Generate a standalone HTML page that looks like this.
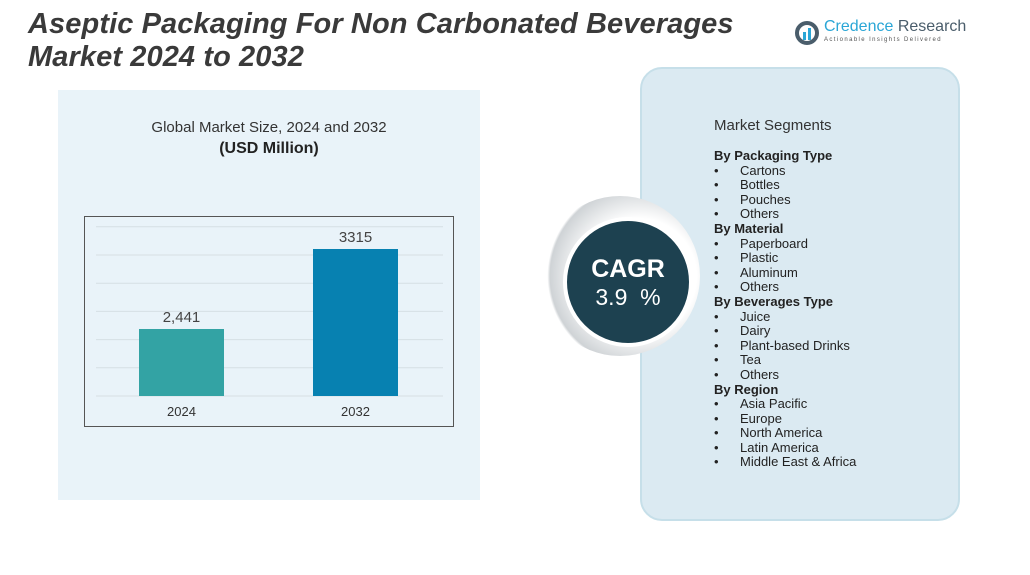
<!DOCTYPE html>
<html><head><meta charset="utf-8"><style>
body{margin:0;width:1030px;height:575px;background:#fff;position:relative;overflow:hidden;font-family:"Century Gothic","Liberation Sans",sans-serif;}
.abs{position:absolute;}
#title{left:28px;top:8px;font:italic bold 29px "Liberation Sans",sans-serif;color:#3a3a3a;line-height:33px;letter-spacing:0.1px}
#left{left:58px;top:90px;width:422px;height:410px;background:#e9f3f9}
#right{left:640px;top:67px;width:316px;height:450px;background:#dbeaf2;border:2px solid #c6dfe9;border-radius:22px}
ul{margin:0;padding:0;list-style:none}
.seg{font-size:13px;color:#222;line-height:14.6px}
.seg b{display:block}
.seg li{padding-left:26px;position:relative}
.seg li:before{content:"•";position:absolute;left:0}
</style></head><body>
<div id="left" class="abs"></div>
<div id="title" class="abs">Aseptic Packaging For Non Carbonated Beverages<br>Market 2024 to 2032</div>
<div class="abs" style="left:795px;top:18px;width:170px;height:28px">
<svg width="26" height="26" style="position:absolute;left:0;top:2px"><circle cx="12" cy="13" r="10" fill="none" stroke="#4a5d6b" stroke-width="4"/><rect x="8" y="12" width="3" height="8" fill="#2aa6d6"/><rect x="13" y="8" width="3" height="12" fill="#2aa6d6"/></svg>
<div class="abs" style="left:29px;top:0;font:16px 'Liberation Sans',sans-serif;color:#2aa6d6;white-space:nowrap">Credence <span style="color:#4a5d6b">Research</span></div>
<div class="abs" style="left:29px;top:19px;font:6px 'Liberation Sans',sans-serif;color:#555;letter-spacing:1.4px;white-space:nowrap">Actionable Insights Delivered</div>
</div>
<div class="abs" style="left:58px;top:119px;width:422px;text-align:center;font-size:15px;color:#333">Global Market Size, 2024 and 2032</div>
<div class="abs" style="left:58px;top:140px;width:422px;text-align:center;font-size:16px;font-weight:bold;color:#222">(USD Million)</div>
<svg class="abs" style="left:0;top:0" width="1030" height="575" id="chart">
<rect x="84.5" y="216.5" width="369" height="210" fill="none" stroke="#555" stroke-width="1"/>
<g id="grid"></g><g id="bars"></g>
</svg>
<div id="right" class="abs"></div>
<div class="abs" style="left:714px;top:117px;font-size:15px;color:#333">Market Segments</div>
<div class="abs seg" style="left:714px;top:149px">
<b>By Packaging Type</b><ul><li>Cartons</li><li>Bottles</li><li>Pouches</li><li>Others</li></ul>
<b>By Material</b><ul><li>Paperboard</li><li>Plastic</li><li>Aluminum</li><li>Others</li></ul>
<b>By Beverages Type</b><ul><li>Juice</li><li>Dairy</li><li>Plant-based Drinks</li><li>Tea</li><li>Others</li></ul>
<b>By Region</b><ul><li>Asia Pacific</li><li>Europe</li><li>North America</li><li>Latin America</li><li>Middle East &amp; Africa</li></ul>
</div>
<div class="abs" style="left:540px;top:196px;width:160px;height:160px;border-radius:50%;background:radial-gradient(circle at 62% 50%,#fff 45%,#cfd3d6 70%,rgba(255,255,255,0) 72%)"></div>
<div class="abs" style="left:563px;top:217px;width:122px;height:122px;border-radius:50%;background:#1d4150;border:4px solid #fff;color:#fff;text-align:center">
<div style="margin-top:34px;font-size:25px;font-weight:bold">CAGR</div>
<div style="font-size:23px">3.9&nbsp; %</div></div>
<script>
const categories=["2024","2032"];
const values=[2441,3315];
const labels=["2,441","3315"];
const colors=["#33a3a4","#0781b1"];
const NS="http://www.w3.org/2000/svg";
const baseY=396, v0=1709, k=147/(3315-1709);
const y=v=>baseY-(v-v0)*k;
const xs=i=>139+i*174;
const g=document.getElementById('grid'),b=document.getElementById('bars');
for(let i=0;i<7;i++){const l=document.createElementNS(NS,'line');


const yy=baseY-i*28.2;l.setAttribute('x1',96);l.setAttribute('x2',443);l.setAttribute('y1',yy);l.setAttribute('y2',yy);l.setAttribute('stroke','#d6dfe4');g.appendChild(l);}
categories.forEach((c,i)=>{
const r=document.createElementNS(NS,'rect');


r.setAttribute('x',xs(i));r.setAttribute('width',85);r.setAttribute('y',y(values[i]));r.setAttribute('height',baseY-y(values[i]));r.setAttribute('fill',colors[i]);b.appendChild(r);
const t=document.createElementNS(NS,'text');


t.setAttribute('x',xs(i)+42.5);t.setAttribute('y',y(values[i])-7);t.setAttribute('text-anchor','middle');t.setAttribute('font-size','15');t.setAttribute('fill','#444');t.textContent=labels[i];b.appendChild(t);
const a=document.createElementNS(NS,'text');


a.setAttribute('x',xs(i)+42.5);a.setAttribute('y',416);a.setAttribute('text-anchor','middle');a.setAttribute('font-size','13');a.setAttribute('fill','#333');a.textContent=c;b.appendChild(a);
});
</script>
</body></html>
